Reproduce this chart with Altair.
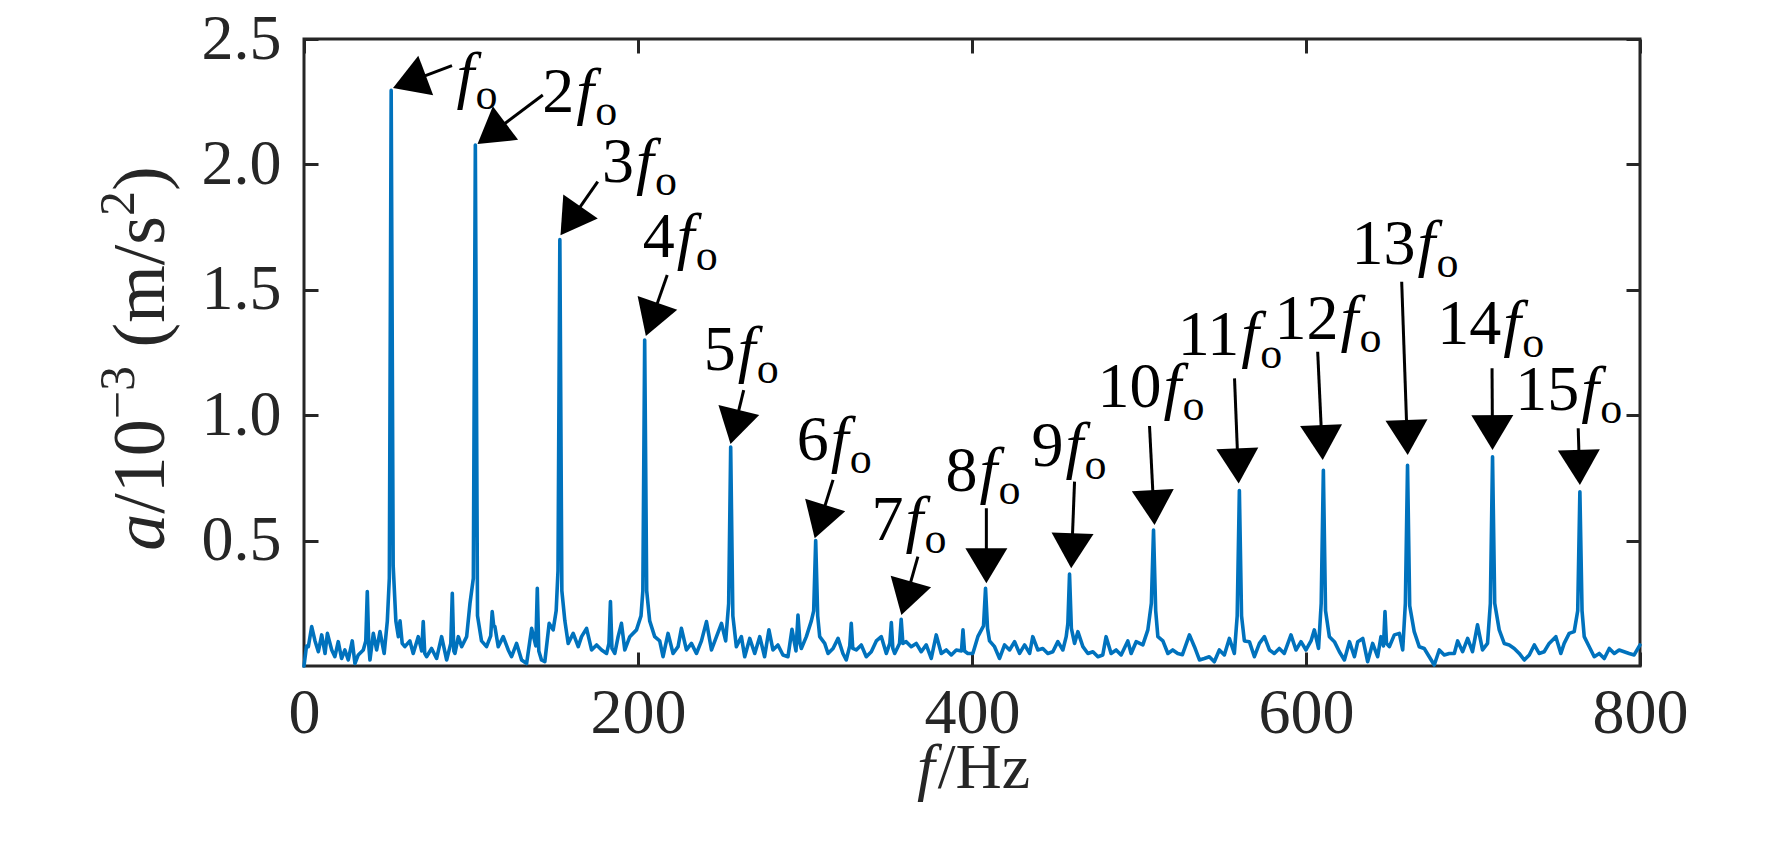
import math
import altair as alt
import pandas as pd

# ---------------- spectrum samples (f in Hz, a in 1e-3 m/s^2)
freq_a = [0.0, 1.5, 2.6, 4.6, 6.6, 8.6, 10.6, 12.6, 14.0, 16.6, 18.5, 20.5, 22.5, 24.5, 26.5, 28.9, 30.5, 32.5, 35.5, 37.0,
          37.9, 38.8, 39.5, 41.5, 43.5, 45.5, 48.0, 49.9, 51.1, 52.2, 53.4, 55.0, 56.5, 57.5, 58.8, 60.4, 63.4, 65.4, 68.4, 70.5,
          71.4, 72.3, 73.4, 76.4, 79.4, 82.4, 85.4, 87.9, 88.8, 89.7, 90.4, 92.4, 94.4, 97.4, 99.4]
amp_a = [0.00, 0.08, 0.077, 0.157, 0.10, 0.057, 0.124, 0.05, 0.13, 0.064, 0.037, 0.097, 0.03, 0.064, 0.024, 0.10, 0.01, 0.044, 0.064, 0.10,
         0.297, 0.08, 0.024, 0.13, 0.064, 0.137, 0.05, 0.18, 0.35, 2.295, 0.40, 0.18, 0.117, 0.18, 0.09, 0.077, 0.10, 0.05, 0.117, 0.06,
         0.177, 0.05, 0.037, 0.07, 0.03, 0.117, 0.024, 0.09, 0.29, 0.06, 0.05, 0.117, 0.077, 0.117, 0.25]

freq_b = [101.4, 102.6, 103.9, 106.3, 109.3, 111.8, 112.7, 113.6, 114.3, 116.3, 119.3, 122.3, 124.3, 127.3, 130.3, 133.3, 136.3, 138.8, 139.7, 140.6,
          142.2, 144.2, 146.8, 149.2, 151.0, 152.1, 153.2, 154.4, 156.2, 158.2, 161.2, 164.2, 166.2, 169.2, 172.2, 175.2, 178.2, 181.2, 182.6, 183.5,
          184.4, 186.1, 188.1, 190.1, 192.1, 195.1, 199.1]
amp_b = [0.35, 2.077, 0.20, 0.10, 0.077, 0.12, 0.217, 0.16, 0.157, 0.077, 0.117, 0.064, 0.037, 0.09, 0.024, 0.01, 0.15, 0.08, 0.31, 0.06,
         0.024, 0.017, 0.17, 0.144, 0.22, 0.38, 1.70, 0.30, 0.18, 0.09, 0.13, 0.077, 0.117, 0.15, 0.064, 0.084, 0.064, 0.05, 0.09, 0.257,
         0.07, 0.05, 0.117, 0.17, 0.064, 0.117, 0.144]

freq_c = [201.8, 202.9, 204.0, 205.2, 207.0, 210.0, 213.0, 215.0, 218.0, 221.0, 224.0, 226.0, 229.0, 232.0, 235.0, 238.0, 241.0, 244.0, 247.0, 250.0,
          252.5, 254.3, 255.5, 256.8, 258.9, 261.9, 263.9, 266.9, 269.9, 272.9, 275.8, 278.4, 280.8, 283.8, 286.8, 289.8, 292.2, 294.6, 295.8, 297.0,
          297.8, 300.8]
amp_c = [0.20, 0.30, 1.30, 0.30, 0.18, 0.117, 0.10, 0.037, 0.13, 0.05, 0.077, 0.15, 0.064, 0.09, 0.05, 0.10, 0.177, 0.064, 0.117, 0.17,
         0.10, 0.25, 0.873, 0.20, 0.077, 0.117, 0.037, 0.11, 0.05, 0.117, 0.037, 0.144, 0.064, 0.084, 0.044, 0.037, 0.146, 0.06, 0.203, 0.09,
         0.07, 0.117]

freq_d = [303.8, 305.2, 306.4, 307.6, 308.8, 311.8, 313.8, 316.8, 319.8, 322.7, 324.7, 326.8, 327.7, 328.6, 330.7, 333.7, 336.7, 339.7, 342.7, 345.7,
          348.7, 350.8, 351.7, 352.6, 353.7, 356.6, 357.6, 358.6, 360.6, 363.6, 366.6, 369.6, 372.6, 375.6, 378.6, 381.6, 384.6, 387.6, 390.6, 393.7,
          394.6, 395.5, 397.5]
amp_d = [0.18, 0.22, 0.50, 0.20, 0.117, 0.09, 0.05, 0.07, 0.11, 0.05, 0.024, 0.08, 0.17, 0.07, 0.064, 0.084, 0.037, 0.057, 0.10, 0.117,
         0.05, 0.09, 0.173, 0.07, 0.05, 0.09, 0.186, 0.09, 0.097, 0.077, 0.09, 0.057, 0.084, 0.03, 0.124, 0.05, 0.064, 0.044, 0.064, 0.06,
         0.144, 0.06, 0.05]

freq_e = [400.5, 403.5, 406.9, 408.1, 409.3, 410.5, 413.5, 416.5, 419.5, 422.5, 425.5, 428.5, 431.5, 434.5, 436.4, 439.4, 442.4, 445.4, 448.4, 451.4,
          454.4, 456.4, 457.4, 458.4, 459.5, 461.4, 463.4, 466.4, 469.4, 472.4, 475.4, 478.3, 480.3, 483.3, 486.3, 489.3, 493.3, 495.3, 498.3]
amp_e = [0.05, 0.117, 0.16, 0.31, 0.15, 0.10, 0.077, 0.03, 0.084, 0.064, 0.097, 0.05, 0.084, 0.05, 0.117, 0.064, 0.07, 0.05, 0.057, 0.097,
         0.064, 0.117, 0.17, 0.367, 0.15, 0.09, 0.137, 0.077, 0.05, 0.057, 0.037, 0.044, 0.117, 0.05, 0.064, 0.044, 0.10, 0.05, 0.097]

freq_f = [502.3, 505.3, 507.4, 508.7, 510.0, 511.3, 514.3, 517.3, 520.2, 523.2, 526.0, 530.2, 533.2, 536.2, 539.1, 542.1, 545.1, 548.1, 551.1, 554.1,
          557.1, 558.8, 560.1, 561.4, 563.1, 566.1, 569.1, 572.1, 575.1, 578.1, 581.0, 584.0, 587.0, 591.0, 594.0, 597.0]
amp_f = [0.084, 0.144, 0.25, 0.542, 0.22, 0.117, 0.10, 0.05, 0.064, 0.05, 0.045, 0.124, 0.077, 0.024, 0.03, 0.037, 0.017, 0.064, 0.044, 0.11,
         0.05, 0.20, 0.70, 0.20, 0.10, 0.097, 0.037, 0.09, 0.117, 0.064, 0.05, 0.07, 0.05, 0.124, 0.064, 0.097]

freq_g = [600.0, 603.0, 605.0, 607.5, 609.1, 610.4, 611.7, 614.0, 617.0, 620.0, 623.0, 626.0, 629.0, 631.0, 634.0, 636.9, 639.9, 642.9, 644.9, 646.4,
          647.3, 648.2, 649.9, 652.9, 655.9, 657.9, 659.5, 660.8, 662.1, 664.8, 667.8, 670.8, 673.8, 676.8, 679.8, 682.8, 685.8, 688.8, 690.8, 693.8,
          696.8, 699.7]
amp_g = [0.064, 0.10, 0.144, 0.07, 0.25, 0.78, 0.22, 0.117, 0.097, 0.057, 0.024, 0.097, 0.037, 0.097, 0.11, 0.017, 0.09, 0.037, 0.117, 0.08,
         0.217, 0.09, 0.077, 0.124, 0.13, 0.064, 0.25, 0.80, 0.24, 0.137, 0.077, 0.07, 0.037, 0.004, 0.064, 0.044, 0.05, 0.05, 0.10, 0.057,
         0.11, 0.057]

freq_h = [702.7, 705.7, 708.7, 710.4, 711.7, 713.0, 715.7, 718.7, 721.7, 724.7, 727.7, 730.7, 733.7, 736.7, 739.6, 742.6, 745.6, 749.6, 752.6, 754.6,
          757.6, 760.6, 762.7, 764.0, 765.3, 766.6, 769.6, 772.6, 775.6, 778.6, 781.6, 784.6, 787.5, 790.5, 793.5, 796.5, 800.0]
amp_h = [0.164, 0.064, 0.09, 0.25, 0.834, 0.25, 0.144, 0.09, 0.084, 0.07, 0.05, 0.024, 0.044, 0.084, 0.05, 0.057, 0.09, 0.117, 0.05, 0.09,
         0.13, 0.137, 0.22, 0.695, 0.22, 0.117, 0.077, 0.037, 0.05, 0.03, 0.07, 0.05, 0.064, 0.057, 0.05, 0.044, 0.084]

# ---------------- harmonic annotations (data units)
label_num = ["", "2", "3", "4", "5", "6", "7", "8", "9", "10", "11", "12", "13", "14", "15"]
label_hz = [91.3, 163.0, 198.8, 223.2, 259.7, 315.4, 360.2, 404.5, 456.0, 514.7, 561.3, 620.6, 666.7, 718.1, 764.8]
label_amp = [2.273, 2.209, 1.930, 1.631, 1.180, 0.821, 0.502, 0.698, 0.797, 1.033, 1.240, 1.304, 1.603, 1.284, 1.021]
tail_hz = [88.6, 143.0, 175.9, 217.5, 263.3, 316.8, 367.6, 408.6, 461.4, 506.3, 557.2, 607.0, 657.3, 711.4, 763.0]
tail_amp = [2.394, 2.277, 1.931, 1.559, 1.100, 0.742, 0.436, 0.629, 0.735, 0.957, 1.147, 1.253, 1.532, 1.187, 0.948]
tip_hz = [53.3, 103.9, 153.6, 204.7, 255.4, 305.8, 357.7, 408.6, 459.4, 509.3, 559.7, 610.0, 660.9, 711.7, 764.0]
tip_amp = [2.305, 2.081, 1.718, 1.316, 0.885, 0.509, 0.203, 0.330, 0.390, 0.562, 0.728, 0.821, 0.841, 0.861, 0.722]

x_ticks = [0, 200, 400, 600, 800]
y_ticks = [0.5, 1.0, 1.5, 2.0, 2.5]

# ---------------- styling
W, H = 1336, 627
FONT = "Liberation Serif"
INK = "#262626"
BLUE = "#0072BD"
FS = 64
FS_SMALL = 44
FS_T = 74
FS_T_SMALL = 50
TICK = 14
HEAD = 35

freqs = freq_a + freq_b + freq_c + freq_d + freq_e + freq_f + freq_g + freq_h
amps = amp_a + amp_b + amp_c + amp_d + amp_e + amp_f + amp_g + amp_h
spec = pd.DataFrame(list(zip(freqs, amps)), columns=["f", "a"])

# arrow geometry (shaft end and head rotation in screen space)
sx, sy = W / 800.0, H / 2.5
rows = []
for th, ta, ph, pa in zip(tail_hz, tail_amp, tip_hz, tip_amp):
    dxp = (ph - th) * sx
    dyp = -(pa - ta) * sy
    L = math.hypot(dxp, dyp)
    ux, uy = dxp / L, dyp / L
    rows.append({
        "tail_hz": th, "tail_amp": ta, "tip_hz": ph, "tip_amp": pa,
        "base_hz": ph - 0.85 * HEAD * ux / sx,
        "base_amp": pa + 0.85 * HEAD * uy / sy,
        "ang": math.degrees(math.atan2(-ux, uy)) % 360,
    })
arrows = pd.DataFrame(rows)
labels = pd.DataFrame({"num": label_num, "hz": label_hz, "amp": label_amp})

xs = alt.Scale(domain=[0, 800], nice=False, zero=False)
ys = alt.Scale(domain=[0, 2.5], nice=False, zero=False)


def ax(orient, values, fmt, show_labels, pad):
    kw = dict(orient=orient, values=values, title=None, domain=False, grid=False,
              ticks=True, tickSize=TICK, tickWidth=3, tickColor=INK, offset=-TICK,
              labels=show_labels)
    if show_labels:
        kw.update(format=fmt, labelFont=FONT, labelFontSize=FS, labelColor=INK,
                  labelPadding=pad, labelFlush=False, labelOverlap=False, labelAngle=0)
    return alt.Axis(**kw)


line = alt.Chart(spec).mark_line(color=BLUE, strokeWidth=3.6, strokeJoin="round", strokeCap="round").encode(
    x=alt.X("f:Q", scale=xs, axis=ax("bottom", x_ticks, "d", True, 15)),
    y=alt.Y("a:Q", scale=ys, axis=ax("left", y_ticks, ".1f", True, 23)),
)

mirror = alt.Chart(spec).mark_line(strokeOpacity=0).encode(
    x=alt.X("f:Q", scale=xs, axis=ax("top", x_ticks, None, False, 0)),
    y=alt.Y("a:Q", scale=ys, axis=ax("right", y_ticks, None, False, 0)),
)

shafts = alt.Chart(arrows).mark_rule(color="black", strokeWidth=3).encode(
    x=alt.X("tail_hz:Q", scale=xs, axis=None),
    y=alt.Y("tail_amp:Q", scale=ys, axis=None),
    x2="base_hz:Q",
    y2="base_amp:Q",
)

heads = alt.Chart(arrows).mark_point(
    shape="M0,0L-0.6,-1L0.6,-1Z", filled=True, size=(2 * HEAD) ** 2,
    color="black", opacity=1, strokeWidth=0,
).encode(
    x=alt.X("tip_hz:Q", scale=xs, axis=None),
    y=alt.Y("tip_amp:Q", scale=ys, axis=None),
    angle=alt.Angle("ang:Q", scale=None),
)

lab_enc = dict(x=alt.X("hz:Q", scale=xs, axis=None), y=alt.Y("amp:Q", scale=ys, axis=None))
lab_num = alt.Chart(labels).mark_text(
    align="right", baseline="alphabetic", dx=-2, font=FONT, fontSize=FS, color="black"
).encode(text="num:N", **lab_enc)
lab_f = alt.Chart(labels).mark_text(
    align="left", baseline="alphabetic", font=FONT, fontSize=FS, fontStyle="italic", color="black", text="f"
).encode(**lab_enc)
lab_o = alt.Chart(labels).mark_text(
    align="left", baseline="alphabetic", dx=19, dy=13, font=FONT, fontSize=FS_SMALL, color="black", text="o"
).encode(**lab_enc)

one = pd.DataFrame({"k": [0]})


def piece(text, x, y, size, italic=False, angle=None):
    mk = dict(text=text, font=FONT, fontSize=size, color=INK, align="left", baseline="alphabetic")
    if italic:
        mk["fontStyle"] = "italic"
    if angle is not None:
        mk["angle"] = angle
    return alt.Chart(one).mark_text(**mk).encode(x=alt.value(x), y=alt.value(y))


# y-axis title: a/10^-3 (m/s^2), rotated, built from pieces (advance widths in em, gap before in em)
y_parts = [("a", FS_T, True, False, 0.5, 0.0),
           ("/10", FS_T, False, False, 1.278, 0.0),
           ("\u22123", FS_T_SMALL, False, True, 1.064, 0.0),
           ("(m/s", FS_T, False, False, 1.778, 0.25),
           ("2", FS_T_SMALL, False, True, 0.5, 0.0),
           (")", FS_T, False, False, 0.333, 0.0)]
total = sum(w * s + g * FS_T for _, s, _, _, w, g in y_parts)
y_base_x = -140
y_start = H / 2 + total / 2 + 6
titles = []
pos = 0.0
for txt, size, ital, sup, w, gap in y_parts:
    pos += gap * FS_T
    titles.append(piece(txt, y_base_x - (30 if sup else 0), y_start - pos, size, ital, 270))
    pos += w * size

# x-axis title: f/Hz
xt_w = 0.278 * FS + 1.444 * FS
x0 = W / 2 - xt_w / 2
titles.append(piece("f", x0, H + 122, FS, True))
titles.append(piece("/Hz", x0 + 0.278 * FS + 3, H + 122, FS, False))

chart = alt.layer(line, mirror, shafts, heads, lab_num, lab_f, lab_o, *titles).resolve_scale(
    x="shared", y="shared"
).resolve_axis(
    x="independent", y="independent"
).properties(
    width=W, height=H,
    autosize=alt.AutoSizeParams(type="none"),
    padding={"left": 296, "top": 31, "right": 110, "bottom": 150},
    background="white",
).configure_view(stroke=INK, strokeWidth=3)

chart.save("out.html", embed_options={"renderer": "svg", "actions": False})
